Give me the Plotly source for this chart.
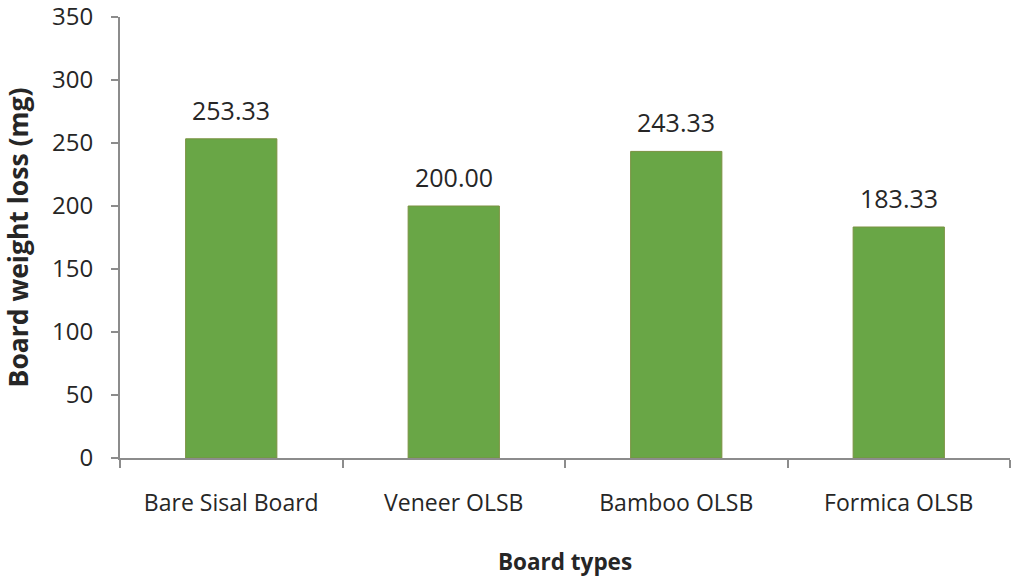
import plotly.graph_objects as go

categories = ["Bare Sisal Board", "Veneer OLSB", "Bamboo OLSB", "Formica OLSB"]
weight_loss = [253.33, 200.00, 243.33, 183.33]
y_ticks = [0, 50, 100, 150, 200, 250, 300, 350]

FONT = "Open Sans"
TXT = "#262626"
AX = "#8c8c8c"

fig = go.Figure()
fig.add_trace(go.Bar(
    x=categories, y=weight_loss,
    width=0.41,
    marker=dict(color="#69a646", line=dict(color="#7a9140", width=1)),
    hoverinfo="x+y",
))

for c, v in zip(categories, weight_loss):
    fig.add_annotation(x=c, y=v, text=f"{v:.2f}", showarrow=False,
                       yshift=29, font=dict(family=FONT, size=25, color=TXT))

fig.update_layout(
    width=1024, height=577,
    margin=dict(l=120, r=14, t=17, b=119),
    paper_bgcolor="white", plot_bgcolor="white",
    showlegend=False,
    font=dict(family=FONT, color=TXT),
    xaxis=dict(
        type="category", automargin=False,
        showline=True, linecolor=AX, linewidth=2,
        ticks="outside", tickson="boundaries", ticklen=8, tickcolor=AX, tickwidth=2,
        tickfont=dict(family=FONT, size=23, color=TXT),
        ticklabelstandoff=23,
        showgrid=False, zeroline=False,
        title=dict(text="<b>Board types</b>", font=dict(family=FONT, size=22.5, color=TXT), standoff=41),
    ),
    yaxis=dict(
        range=[0, 350.01], tickvals=y_ticks, automargin=False,
        showline=True, linecolor=AX, linewidth=2,
        ticks="outside", ticklen=7, tickcolor=AX, tickwidth=2,
        tickfont=dict(family=FONT, size=24, color=TXT),
        ticklabelstandoff=13, ticklabeloverflow="allow",
        showgrid=False, zeroline=False,
        title=dict(text="<b>Board weight loss (mg)</b>", font=dict(family=FONT, size=26.5, color=TXT), standoff=42),
    ),
)

fig.write_html("out.html", config={"displayModeBar": False},
               post_script="document.body.style.margin='0';")
